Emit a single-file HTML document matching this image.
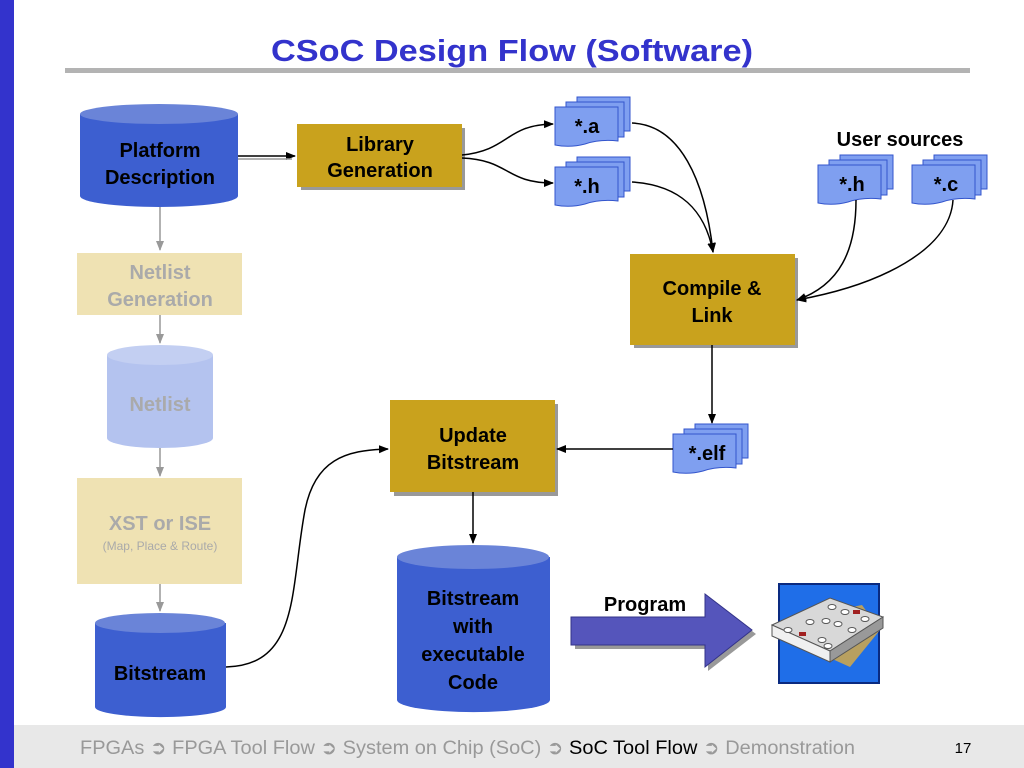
<!DOCTYPE html>
<html><head><meta charset="utf-8"><style>
html,body{margin:0;padding:0;background:#fff;}
svg{display:block;font-family:"Liberation Sans",Arial,sans-serif;}
</style></head><body>
<svg width="1024" height="768" viewBox="0 0 1024 768" xmlns="http://www.w3.org/2000/svg">
<defs>
<marker id="ah" markerWidth="10" markerHeight="10" refX="9" refY="5" orient="auto" markerUnits="userSpaceOnUse"><path d="M0,1 L10,5 L0,9 Z" fill="#000"/></marker>
<marker id="ag" markerWidth="10" markerHeight="10" refX="9" refY="5" orient="auto" markerUnits="userSpaceOnUse"><path d="M0,1 L10,5 L0,9 Z" fill="#999"/></marker>
<g id="doc">
<path d="M22,0 H75 V34 H22 Z" fill="#7f9ff0" stroke="#3355cc" stroke-width="1"/>
<path d="M11,5 H69 V40 H11 Z" fill="#7f9ff0" stroke="#3355cc" stroke-width="1"/>
<path d="M0,10 H63 V44 Q45,42 30,47 Q15,51 0,48 Z" fill="#7f9ff0" stroke="#3355cc" stroke-width="1"/>
</g>
</defs>
<rect x="0" y="0" width="14" height="768" fill="#3333cc"/>
<rect x="14" y="725" width="1010" height="43" fill="#e8e8e8"/>
<text x="512" y="61" text-anchor="middle" font-size="31" font-weight="bold" fill="#3333cc" textLength="482" lengthAdjust="spacingAndGlyphs">CSoC Design Flow (Software)</text>
<rect x="65" y="68" width="905" height="5" fill="#b3b3b3"/>

<line x1="160" y1="205" x2="160" y2="250" stroke="#999" stroke-width="1.5" marker-end="url(#ag)"/>
<rect x="77" y="253" width="165" height="62" fill="#efe2b3"/>
<text x="160" y="279" text-anchor="middle" font-size="20" font-weight="bold" fill="#aaa">Netlist</text>
<text x="160" y="306" text-anchor="middle" font-size="20" font-weight="bold" fill="#aaa">Generation</text>
<line x1="160" y1="315" x2="160" y2="343" stroke="#999" stroke-width="1.5" marker-end="url(#ag)"/>
<path d="M107,355 V438 A53,10 0 0 0 213,438 V355 Z" fill="#b4c3ef"/>
<ellipse cx="160" cy="355" rx="53" ry="10" fill="#c3cff2"/>
<text x="160" y="411" text-anchor="middle" font-size="20" font-weight="bold" fill="#aaa">Netlist</text>
<line x1="160" y1="448" x2="160" y2="476" stroke="#999" stroke-width="1.5" marker-end="url(#ag)"/>
<rect x="77" y="478" width="165" height="106" fill="#efe2b3"/>
<text x="160" y="530" text-anchor="middle" font-size="20" font-weight="bold" fill="#aaa">XST or ISE</text>
<text x="160" y="550" text-anchor="middle" font-size="12" fill="#aaa">(Map, Place &amp; Route)</text>
<line x1="160" y1="584" x2="160" y2="611" stroke="#999" stroke-width="1.5" marker-end="url(#ag)"/>

<path d="M80,114 V196 A79,11 0 0 0 238,196 V114 Z" fill="#3d5fd0"/>
<ellipse cx="159" cy="114" rx="79" ry="10" fill="#6a84d8"/>
<text x="160" y="157" text-anchor="middle" font-size="20" font-weight="bold" fill="#000">Platform</text>
<text x="160" y="184" text-anchor="middle" font-size="20" font-weight="bold" fill="#000">Description</text>

<path d="M95,623 V707 A65,10 0 0 0 226,707 V623 Z" fill="#3d5fd0"/>
<ellipse cx="160" cy="623" rx="65" ry="10" fill="#6a84d8"/>
<text x="160" y="680" text-anchor="middle" font-size="20" font-weight="bold" fill="#000">Bitstream</text>

<rect x="301" y="128" width="164" height="62" fill="#999"/>
<rect x="297" y="124" width="165" height="63" fill="#c9a21d"/>
<text x="380" y="151" text-anchor="middle" font-size="20" font-weight="bold" fill="#000">Library</text>
<text x="380" y="177" text-anchor="middle" font-size="20" font-weight="bold" fill="#000">Generation</text>
<line x1="238" y1="156" x2="295" y2="156" stroke="#000" stroke-width="1.5" marker-end="url(#ah)"/>
<line x1="238" y1="159" x2="292" y2="159" stroke="#999" stroke-width="1.5"/>

<use href="#doc" x="555" y="97"/>
<text x="587" y="133" text-anchor="middle" font-size="20" font-weight="bold">*.a</text>
<use href="#doc" x="555" y="157"/>
<text x="587" y="193" text-anchor="middle" font-size="20" font-weight="bold">*.h</text>
<path d="M462,155 C510,150 505,125 553,124" fill="none" stroke="#000" stroke-width="1.5" marker-end="url(#ah)"/>
<path d="M462,158 C510,160 505,183 553,183" fill="none" stroke="#000" stroke-width="1.5" marker-end="url(#ah)"/>

<text x="900" y="146" text-anchor="middle" font-size="20" font-weight="bold">User sources</text>
<use href="#doc" x="818" y="155"/>
<text x="852" y="191" text-anchor="middle" font-size="20" font-weight="bold">*.h</text>
<use href="#doc" x="912" y="155"/>
<text x="946" y="191" text-anchor="middle" font-size="20" font-weight="bold">*.c</text>

<rect x="634" y="258" width="164" height="90" fill="#999"/>
<rect x="630" y="254" width="165" height="91" fill="#c9a21d"/>
<text x="712" y="295" text-anchor="middle" font-size="20" font-weight="bold">Compile &amp;</text>
<text x="712" y="322" text-anchor="middle" font-size="20" font-weight="bold">Link</text>
<path d="M632,123 C680,125 705,180 713,252" fill="none" stroke="#000" stroke-width="1.5" marker-end="url(#ah)"/>
<path d="M632,182 C680,185 705,210 713,252" fill="none" stroke="#000" stroke-width="1.5" marker-end="url(#ah)"/>
<path d="M856,200 C856,250 840,285 797,300" fill="none" stroke="#000" stroke-width="1.5" marker-end="url(#ah)"/>
<path d="M953,200 C950,250 880,285 797,300" fill="none" stroke="#000" stroke-width="1.5" marker-end="url(#ah)"/>

<line x1="712" y1="345" x2="712" y2="423" stroke="#000" stroke-width="1.5" marker-end="url(#ah)"/>
<use href="#doc" x="673" y="424"/>
<text x="707" y="460" text-anchor="middle" font-size="20" font-weight="bold">*.elf</text>

<rect x="394" y="404" width="164" height="92" fill="#999"/>
<rect x="390" y="400" width="165" height="92" fill="#c9a21d"/>
<text x="473" y="442" text-anchor="middle" font-size="20" font-weight="bold">Update</text>
<text x="473" y="469" text-anchor="middle" font-size="20" font-weight="bold">Bitstream</text>
<line x1="673" y1="449" x2="557" y2="449" stroke="#000" stroke-width="1.5" marker-end="url(#ah)"/>
<path d="M226,667 C300,665 290,590 305,510 C315,460 345,450 388,449" fill="none" stroke="#000" stroke-width="1.5" marker-end="url(#ah)"/>
<line x1="473" y1="492" x2="473" y2="543" stroke="#000" stroke-width="1.5" marker-end="url(#ah)"/>

<path d="M397,557 V700 A76,12 0 0 0 550,700 V557 Z" fill="#3d5fd0"/>
<ellipse cx="473" cy="557" rx="76" ry="12" fill="#6a84d8"/>
<text x="473" y="605" text-anchor="middle" font-size="20" font-weight="bold">Bitstream</text>
<text x="473" y="633" text-anchor="middle" font-size="20" font-weight="bold">with</text>
<text x="473" y="661" text-anchor="middle" font-size="20" font-weight="bold">executable</text>
<text x="473" y="689" text-anchor="middle" font-size="20" font-weight="bold">Code</text>

<path d="M575,621 H708 V598 L756,634 L708,671 V649 H575 Z" fill="#999"/>
<path d="M571,617 H705 V594 L752,630 L705,667 V645 H571 Z" fill="#5555bb" stroke="#333388" stroke-width="1"/>
<text x="645" y="611" text-anchor="middle" font-size="20" font-weight="bold">Program</text>

<rect x="779" y="584" width="100" height="99" fill="#1f6ee8" stroke="#0a2a80" stroke-width="2"/>
<path d="M790,620 L862,605 L880,630 L850,667 L790,640 Z" fill="#b8a060"/>
<path d="M772,625 L830,598 L883,617 L830,651 Z" fill="#d8d8d8" stroke="#555" stroke-width="1"/>
<path d="M772,625 L830,651 L830,662 L772,636 Z" fill="#f0f0f0" stroke="#555" stroke-width="1"/>
<path d="M830,651 L883,617 L883,628 L830,662 Z" fill="#999" stroke="#555" stroke-width="1"/>
<g fill="#fff" stroke="#555" stroke-width="1">
<ellipse cx="832" cy="607" rx="4" ry="2.5"/><ellipse cx="845" cy="612" rx="4" ry="2.5"/>
<ellipse cx="810" cy="622" rx="4" ry="2.5"/><ellipse cx="826" cy="621" rx="4" ry="2.5"/>
<ellipse cx="838" cy="624" rx="4" ry="2.5"/><ellipse cx="865" cy="619" rx="4" ry="2.5"/>
<ellipse cx="788" cy="630" rx="4" ry="2.5"/><ellipse cx="822" cy="640" rx="4" ry="2.5"/>
<ellipse cx="852" cy="630" rx="4" ry="2.5"/><ellipse cx="828" cy="646" rx="4" ry="2.5"/>
</g>
<rect x="853" y="610" width="7" height="4" fill="#a02020"/>
<rect x="799" y="632" width="7" height="4" fill="#a02020"/>

<text x="80" y="754" font-size="19" fill="#999" textLength="775" lengthAdjust="spacingAndGlyphs">FPGAs ➲ FPGA Tool Flow ➲ System on Chip (SoC) ➲ <tspan fill="#000">SoC Tool Flow</tspan> ➲ Demonstration</text>
<text x="963" y="753" text-anchor="middle" font-size="15" fill="#000">17</text>
</svg>
</body></html>
